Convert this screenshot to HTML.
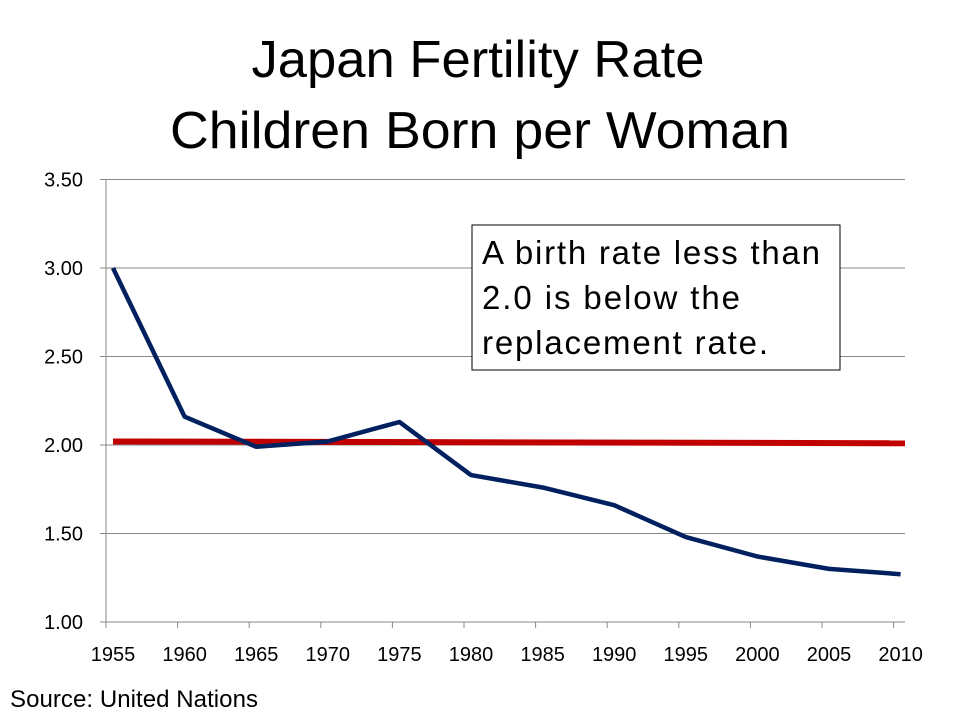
<!DOCTYPE html>
<html><head><meta charset="utf-8"><style>
body{margin:0;background:#fff;font-family:"Liberation Sans",sans-serif}
svg text{font-family:"Liberation Sans",sans-serif}
</style></head><body>
<svg width="960" height="720" viewBox="0 0 960 720">
<text x="478" y="77" text-anchor="middle" font-size="52" textLength="453" lengthAdjust="spacingAndGlyphs" fill="#000">Japan Fertility Rate</text>
<text x="480" y="148" text-anchor="middle" font-size="52" textLength="620" lengthAdjust="spacingAndGlyphs" fill="#000">Children Born per Woman</text>
<g id="grid"></g><g id="axes"></g><g id="series"></g>
<rect x="472" y="225" width="368" height="145" fill="#fff" stroke="#000" stroke-width="1"/>
<text font-size="33" fill="#000"><tspan x="482" y="264" textLength="338">A birth rate less than</tspan><tspan x="482" y="309" textLength="258">2.0 is below the</tspan><tspan x="482" y="354" textLength="286">replacement rate.</tspan></text>
<text x="10" y="707" font-size="24" textLength="248" fill="#000">Source: United Nations</text>
</svg>
<script>
const years=[1955,1960,1965,1970,1975,1980,1985,1990,1995,2000,2005,2010];
const fertility=[3.00,2.16,1.99,2.02,2.13,1.83,1.76,1.66,1.48,1.37,1.30,1.27];
const replacement=[2.02,2.01];
const yTicks=[1.00,1.50,2.00,2.50,3.00,3.50];
const NS="http://www.w3.org/2000/svg";
const x0=113,step=71.6,left=106,right=905;
const xs=i=>x0+i*step;
const ys=v=>622-(v-1)*177;
function mk(t,a,p){const e=document.createElementNS(NS,t);for(const k in a)e.setAttribute(k,a[k]);p.appendChild(e);return e;}
const grid=document.getElementById('grid'),axes=document.getElementById('axes'),ser=document.getElementById('series');
yTicks.forEach(v=>{
 const l=mk('line',{x1:left-6,x2:right,y1:ys(v),y2:ys(v),stroke:'#888','stroke-width':1},grid);
 
 
 const t=mk('text',{x:83,y:ys(v)+7,'text-anchor':'end','font-size':20,fill:'#000'},axes);
 t.textContent=v.toFixed(2);
 
 
});
const ya=mk('line',{x1:left,x2:left,y1:ys(3.5),y2:ys(1)+6,stroke:'#888','stroke-width':1},axes);


years.forEach((y,i)=>{
 const tx=left+i*step;
 const tk=mk('line',{x1:tx,x2:tx,y1:ys(1),y2:ys(1)+6,stroke:'#888'},axes);
 
 
 const t=mk('text',{x:xs(i),y:661,'text-anchor':'middle','font-size':20,fill:'#000'},axes);
 t.textContent=y;
 
 
});
const rl=mk('line',{x1:xs(0),x2:right,y1:ys(replacement[0]),y2:ys(replacement[1]),stroke:'#c00000','stroke-width':6},ser);


const pts=fertility.map((v,i)=>xs(i)+','+ys(v)).join(' ');
const fl=mk('polyline',{points:pts,fill:'none',stroke:'#002060','stroke-width':4.5,'stroke-linejoin':'round'},ser);


</script>
</body></html>
